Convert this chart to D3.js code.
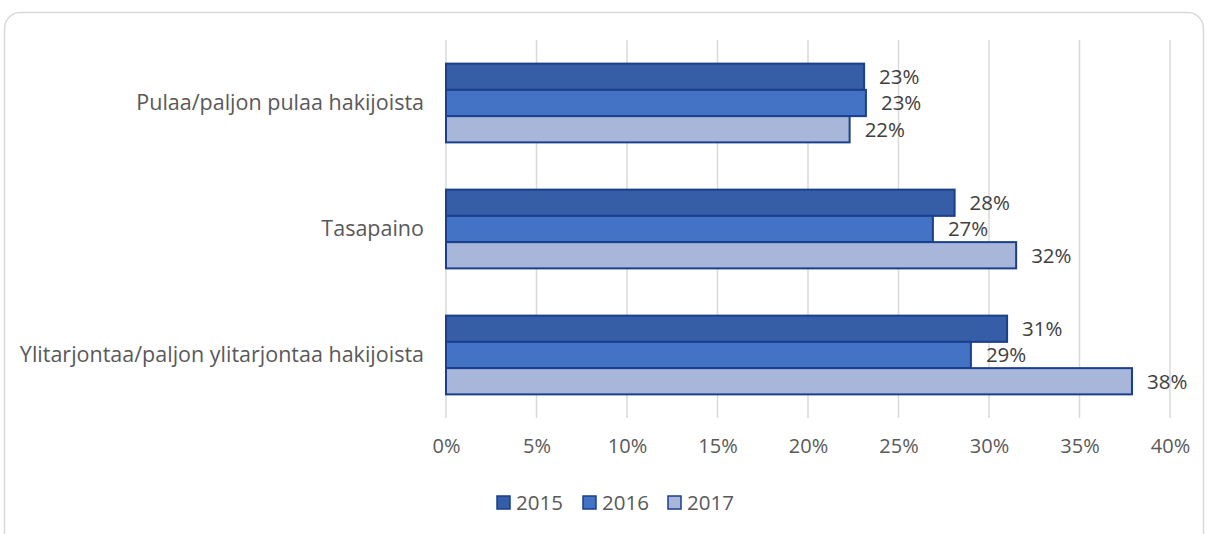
<!DOCTYPE html>
<html><head><meta charset="utf-8">
<script src="https://cdn.jsdelivr.net/npm/d3@7"></script>
<style>
html,body{margin:0;padding:0;background:#fff;}
svg{display:block;}
text{font-family:"Open Sans",sans-serif;}
</style></head>
<body>
<svg id="chart" width="1208" height="534"></svg>
<script>
const categories = ["Pulaa/paljon pulaa hakijoista", "Tasapaino", "Ylitarjontaa/paljon ylitarjontaa hakijoista"];
const seriesNames = ["2015", "2016", "2017"];
const values2015 = [0.231, 0.281, 0.310];
const values2016 = [0.232, 0.269, 0.290];
const values2017 = [0.223, 0.315, 0.379];
const labels2015 = ["23%", "28%", "31%"];
const labels2016 = ["23%", "27%", "29%"];
const labels2017 = ["22%", "32%", "38%"];
const xTicks = [0, 0.05, 0.10, 0.15, 0.20, 0.25, 0.30, 0.35, 0.40];
const xTickLabels = ["0%", "5%", "10%", "15%", "20%", "25%", "30%", "35%", "40%"];

(function () {
const seriesValues = [values2015, values2016, values2017];
const seriesLabels = [labels2015, labels2016, labels2017];
const colors = ["#355EA6", "#4472C4", "#A8B6DA"];
const strokeColor = "#1A3F8C";
const fs = 20.5;

const svg = d3.select("#chart");

// frame
svg.append("rect").attr("x", 4.5).attr("y", 12.5).attr("width", 1199).attr("height", 540)
  .attr("rx", 16).attr("fill", "none").attr("stroke", "#d9d9d9").attr("stroke-width", 1.5);

const pLeft = 446, pRight = 1170, pTop = 40, pBottom = 418;
const x = d3.scaleLinear().domain([0, 0.40]).range([pLeft, pRight]);
const y = d3.scaleBand().domain(categories).range([pTop, pBottom]).paddingInner(0.375).paddingOuter(0.1875);
const ySub = d3.scaleBand().domain(seriesNames).range([0, y.bandwidth()]);

// gridlines
svg.append("g").selectAll("line").data(xTicks).join("line")
  .attr("x1", d => x(d)).attr("x2", d => x(d))
  .attr("y1", pTop).attr("y2", pBottom)
  .attr("stroke", "#d9d9d9").attr("stroke-width", 1.5);

// axis tick labels
const xAxis = d3.axisBottom(x).tickValues(xTicks).tickFormat((d, i) => xTickLabels[i]).tickSize(0).tickPadding(0);
const gx = svg.append("g").attr("transform", `translate(0,${pBottom + 21})`).call(xAxis);
gx.select(".domain").remove();
gx.selectAll("text").attr("font-family", "Open Sans, sans-serif").attr("font-size", 20).attr("fill", "#595959");

// category labels
const yAxis = d3.axisLeft(y).tickSize(0).tickPadding(22);
const gy = svg.append("g").attr("transform", `translate(${pLeft},0)`).call(yAxis);
gy.select(".domain").remove();
gy.selectAll("text").attr("font-family", "Open Sans, sans-serif").attr("font-size", 21.5).attr("fill", "#595959");

// bars
seriesNames.forEach((s, si) => {
  const g = svg.append("g");
  g.selectAll("rect").data(categories).join("rect")
    .attr("x", x(0))
    .attr("y", c => y(c) + ySub(s))
    .attr("width", (c, i) => x(seriesValues[si][i]) - x(0))
    .attr("height", ySub.bandwidth())
    .attr("fill", colors[si])
    .attr("stroke", strokeColor).attr("stroke-width", 2);
  g.selectAll("text").data(categories).join("text")
    .attr("x", (c, i) => x(seriesValues[si][i]) + 15)
    .attr("y", c => y(c) + ySub(s) + ySub.bandwidth() / 2)
    .attr("dy", "0.36em")
    .attr("font-size", fs).attr("fill", "#404040")
    .text((c, i) => seriesLabels[si][i]);
});

// legend
const legendX = [497, 583, 668];
const lg = svg.append("g");
seriesNames.forEach((s, si) => {
  lg.append("rect").attr("x", legendX[si]).attr("y", 496).attr("width", 13).attr("height", 13)
    .attr("fill", colors[si]).attr("stroke", strokeColor).attr("stroke-width", 1.5);
  lg.append("text").attr("x", legendX[si] + 19).attr("y", 503).attr("dy", "0.36em")
    .attr("font-size", fs).attr("fill", "#595959").text(s);
});
})();
</script>
</body></html>
